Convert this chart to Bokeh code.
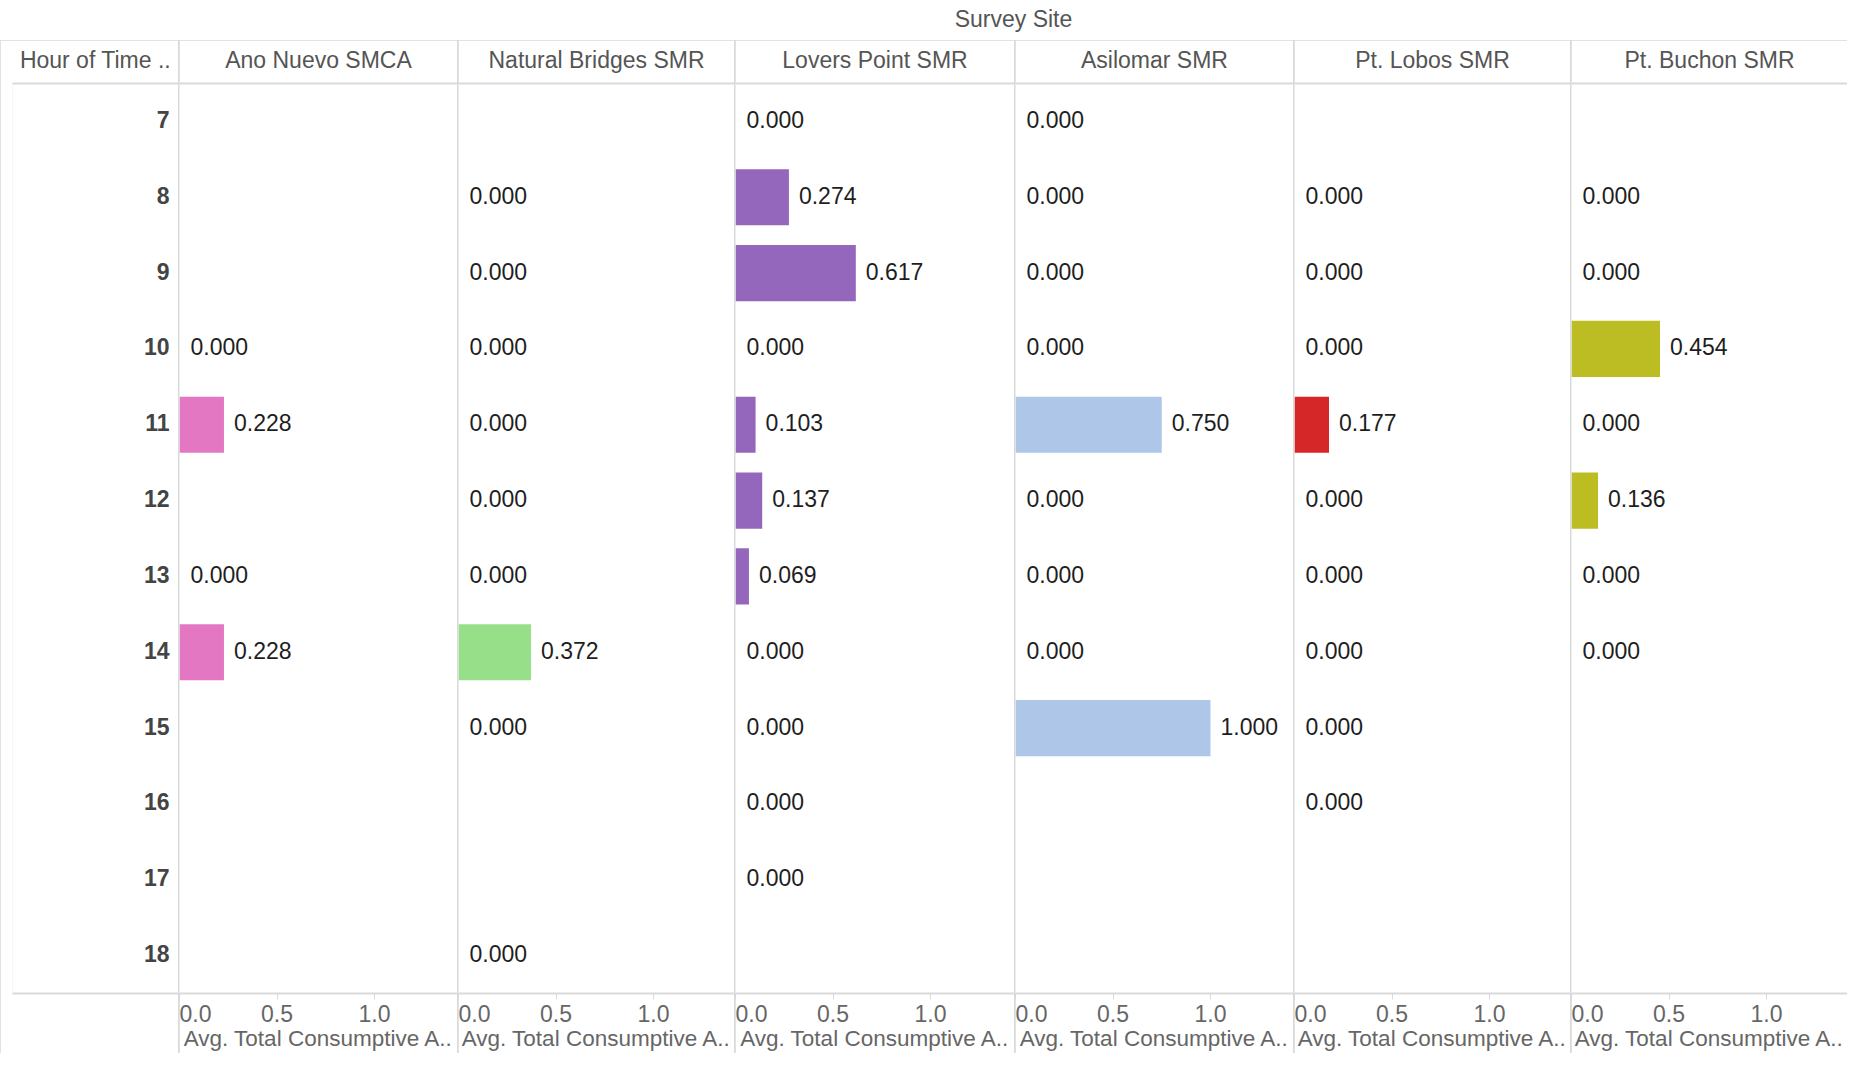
from bokeh.plotting import figure
from bokeh.models import Range1d, LinearAxis, FixedTicker, Label, ColumnDataSource
from bokeh.layouts import row, column
from bokeh.embed import file_html
from bokeh.resources import INLINE
from bokeh.core.properties import value

# ---------------- data ----------------
hours = [7, 8, 9, 10, 11, 12, 13, 14, 15, 16, 17, 18]
hour_labels = [str(h) for h in hours]

sites = ["Ano Nuevo SMCA", "Natural Bridges SMR", "Lovers Point SMR",
         "Asilomar SMR", "Pt. Lobos SMR", "Pt. Buchon SMR"]
site_colors = ["#e377c2", "#98df8a", "#9467bd", "#aec7e8", "#d62728", "#bcbd22"]

ano_nuevo_hours = [10, 11, 13, 14]
ano_nuevo_values = [0.000, 0.228, 0.000, 0.228]

natural_bridges_hours = [8, 9, 10, 11, 12, 13, 14, 15, 18]
natural_bridges_values = [0.000, 0.000, 0.000, 0.000, 0.000, 0.000, 0.372, 0.000, 0.000]

lovers_point_hours = [7, 8, 9, 10, 11, 12, 13, 14, 15, 16, 17]
lovers_point_values = [0.000, 0.274, 0.617, 0.000, 0.103, 0.137, 0.069, 0.000, 0.000, 0.000, 0.000]

asilomar_hours = [7, 8, 9, 10, 11, 12, 13, 14, 15]
asilomar_values = [0.000, 0.000, 0.000, 0.000, 0.750, 0.000, 0.000, 0.000, 1.000]

pt_lobos_hours = [8, 9, 10, 11, 12, 13, 14, 15, 16]
pt_lobos_values = [0.000, 0.000, 0.000, 0.177, 0.000, 0.000, 0.000, 0.000, 0.000]

pt_buchon_hours = [8, 9, 10, 11, 12, 13, 14]
pt_buchon_values = [0.000, 0.000, 0.454, 0.000, 0.136, 0.000, 0.000]

site_hours = [ano_nuevo_hours, natural_bridges_hours, lovers_point_hours,
              asilomar_hours, pt_lobos_hours, pt_buchon_hours]
site_values = [ano_nuevo_values, natural_bridges_values, lovers_point_values,
               asilomar_values, pt_lobos_values, pt_buchon_values]

x_ticks = [0.0, 0.5, 1.0]
x_tick_labels = ["0.0", "0.5", "1.0"]
row_header_title = "Hour of Time .."
column_header_title = "Survey Site"
x_axis_title = "Avg. Total Consumptive A.."

# ---------------- style ----------------
FONT = "Liberation Sans"
FS = "23px"
FS_AXIS_TITLE = "22.5px"
LINE = "#d9d9d9"
HEAD_COLOR = "#555555"
TICK_COLOR = "#666666"
VALUE_COLOR = "#1e1e1e"
HOUR_COLOR = "#444444"

HEADER_W = 178
PANEL_W = [278, 276, 279, 278, 276, 276]
PX_PER_UNIT = 195.0
TOP_FIG_H = 40
BORDER_TOP = 43
FRAME_H = 911
BORDER_BOTTOM = 59
ROW_FIG_H = BORDER_TOP + FRAME_H + BORDER_BOTTOM
BAR_H = 0.74
TEXT_DY = -2
TOTAL_W = HEADER_W + sum(PANEL_W) + len(PANEL_W)

y_range = Range1d(hours[-1] + 0.5, hours[0] - 0.5)


def make_fig(width, x_range, border_left):
    p = figure(width=width, height=ROW_FIG_H, x_range=x_range, y_range=y_range,
               x_axis_type=None, y_axis_type=None, output_backend="svg",
               toolbar_location=None, tools="",
               min_border=0, min_border_left=border_left, min_border_right=0,
               min_border_top=BORDER_TOP, min_border_bottom=BORDER_BOTTOM)
    p.outline_line_color = None
    p.background_fill_color = "white"
    p.border_fill_color = "white"
    return p


def top_axis(label):
    return LinearAxis(ticker=FixedTicker(ticks=[]), axis_label=label,
                      axis_label_text_font=FONT, axis_label_text_font_size=FS,
                      axis_label_text_color=HEAD_COLOR, axis_label_text_font_style="normal",
                      axis_label_standoff=11,
                      axis_line_color=LINE, axis_line_width=2,
                      major_tick_line_color=None, minor_tick_line_color=None,
                      major_label_text_font_size="0px")


# ---------------- row header ----------------
hdr_xr = Range1d(0, 1)
p0 = make_fig(HEADER_W, hdr_xr, 12)
p0.add_layout(top_axis(row_header_title), "above")
p0.add_layout(LinearAxis(ticker=FixedTicker(ticks=[]), axis_line_color=LINE, axis_line_width=2,
                         major_tick_line_color=None, minor_tick_line_color=None,
                         major_label_text_font_size="0px"), "below")
hdr_src = ColumnDataSource(dict(x=[hdr_xr.end] * len(hours), y=hours, text=hour_labels))
p0.text(x="x", y="y", text="text", source=hdr_src, text_align="right", text_baseline="middle",
        x_offset=-9, y_offset=TEXT_DY, text_font=value(FONT), text_font_size=value(FS),
        text_color=HOUR_COLOR, text_font_style="bold")

# ---------------- panels ----------------
overrides = {t: lab for t, lab in zip(x_ticks, x_tick_labels)}

panels = []
for site, color, hrs, vals, w in zip(sites, site_colors, site_hours, site_values, PANEL_W):
    xr = Range1d(0, w / PX_PER_UNIT)
    p = make_fig(w, xr, 0)
    p.add_layout(top_axis(site), "above")
    bottom = LinearAxis(ticker=FixedTicker(ticks=x_ticks), major_label_overrides=dict(overrides),
                        axis_label=x_axis_title, axis_label_text_font=FONT,
                        axis_label_text_font_size=FS_AXIS_TITLE, axis_label_text_color=TICK_COLOR,
                        axis_label_text_font_style="normal", axis_label_standoff=1,
                        axis_line_color=LINE, axis_line_width=2,
                        major_tick_line_color=LINE, major_tick_out=6, major_tick_in=0,
                        minor_tick_line_color=None,
                        major_label_text_font=FONT, major_label_text_font_size=FS,
                        major_label_text_color=TICK_COLOR, major_label_standoff=5)
    p.add_layout(bottom, "below")
    src = ColumnDataSource(dict(y=hrs, right=vals, label=["%.3f" % v for v in vals],
                                offset=[11 if v == 0 else 10 for v in vals]))
    p.hbar(y="y", left=0, right="right", height=BAR_H, source=src,
           fill_color=color, line_color=None)
    p.text(x="right", y="y", text="label", source=src, x_offset="offset", y_offset=TEXT_DY,
           text_align="left", text_baseline="middle", text_font=value(FONT),
           text_font_size=value(FS), text_color=VALUE_COLOR)
    panels.append(p)

# ---------------- column group header ----------------
top = figure(width=TOTAL_W, height=TOP_FIG_H, x_range=Range1d(0, 1), y_range=Range1d(0, TOP_FIG_H),
             x_axis_type=None, y_axis_type=None, output_backend="svg", toolbar_location=None,
             tools="", min_border=0, min_border_left=HEADER_W + 1)
top.outline_line_color = None
top.add_layout(Label(x=0.5, y=TOP_FIG_H - 18, text=column_header_title, text_align="center",
                     text_baseline="middle", text_font=FONT, text_font_size=FS,
                     text_color=HEAD_COLOR))

grid = row([p0] + panels, spacing=1, styles={"background-color": LINE})
layout = column(top, grid, spacing=0)

open("out.html", "w").write(file_html(layout, INLINE, title="Survey Site"))
